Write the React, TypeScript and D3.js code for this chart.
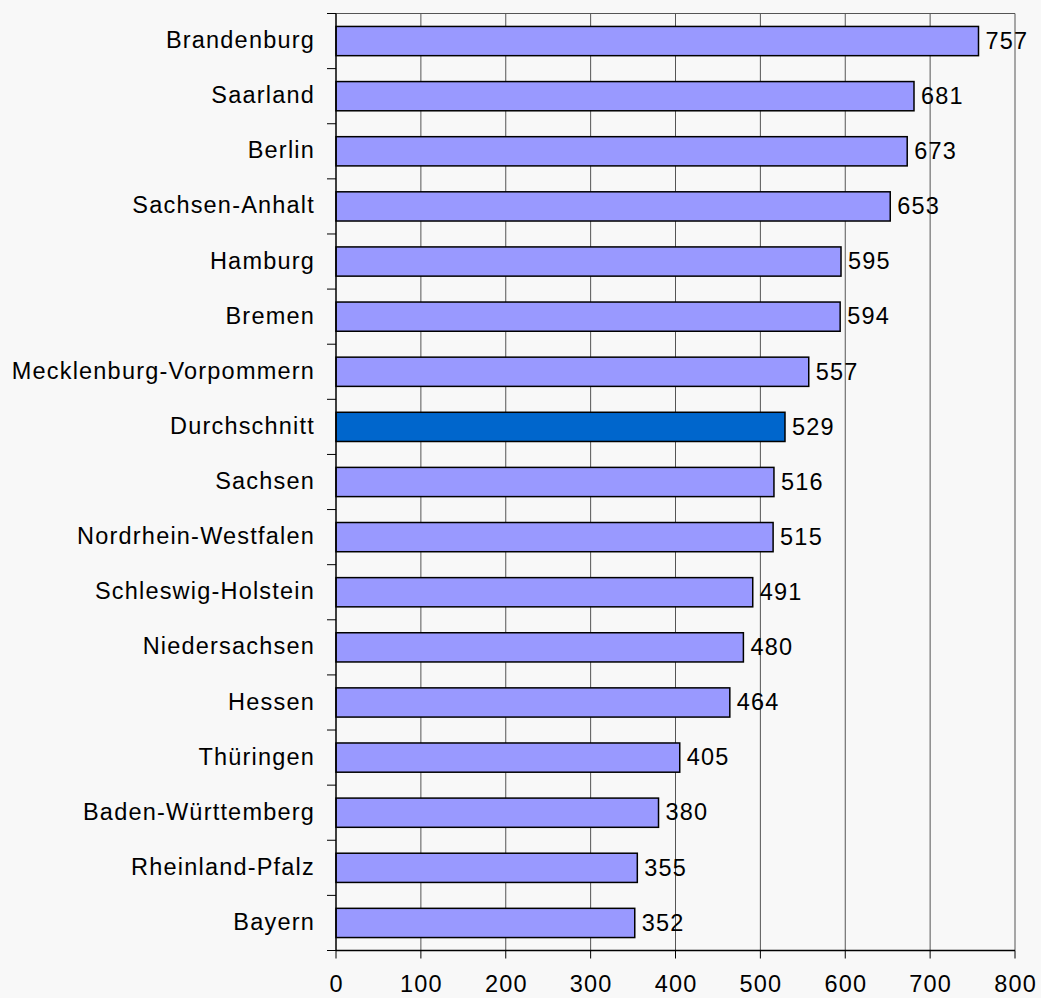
import React from 'react';
import * as d3 from 'd3';

const categories = [
  'Brandenburg', 'Saarland', 'Berlin', 'Sachsen-Anhalt', 'Hamburg', 'Bremen',
  'Mecklenburg-Vorpommern', 'Durchschnitt', 'Sachsen', 'Nordrhein-Westfalen',
  'Schleswig-Holstein', 'Niedersachsen', 'Hessen', 'Thüringen',
  'Baden-Württemberg', 'Rheinland-Pfalz', 'Bayern',
];
const values = [757, 681, 673, 653, 595, 594, 557, 529, 516, 515, 491, 480, 464, 405, 380, 355, 352];
const xTicks = [0, 100, 200, 300, 400, 500, 600, 700, 800];
const highlight = 'Durchschnitt';

const W = 1041;
const H = 998;
const left = 336;
const right = 1015;
const top = 13.5;
const bottom = 950.5;
const font = '"Liberation Sans", Arial, sans-serif';
const fs = 23.5;
const ls = 1.2;

export default function App() {
  const x = d3.scaleLinear().domain([0, 800]).range([left, right]);
  const y = d3.scaleBand<string>().domain(categories).range([top, bottom]).paddingInner(0.47).paddingOuter(0.235);
  const band = d3.scaleBand<string>().domain(categories).range([top, bottom]);

  return (
    <svg width={W} height={H} style={{ position: 'absolute', left: 0, top: 0, background: '#f8f8f8' }}>
      <rect x={0} y={0} width={W} height={H} fill="#f8f8f8" />
      {/* grid */}
      {xTicks.slice(1).map((t) => (
        <line key={t} x1={x(t)} x2={x(t)} y1={top} y2={bottom} stroke="#555" strokeWidth={1} />
      ))}
      <line x1={left} x2={right} y1={top} y2={top} stroke="#555" strokeWidth={1} />
      {/* bars */}
      {categories.map((c, i) => (
        <g key={c}>
          <rect
            x={x(0)}
            y={y(c)}
            width={x(values[i]) - x(0)}
            height={y.bandwidth()}
            fill={c === highlight ? '#0066cc' : '#9999ff'}
            stroke="#000"
            strokeWidth={1.5}
          />
          <text
            x={x(values[i]) + 7}
            y={(y(c) as number) + y.bandwidth() / 2}
            dy="0.33em"
            fontSize={fs}
            letterSpacing={ls}
            fontFamily={font}
            fill="#000"
          >
            {values[i]}
          </text>
          <text
            x={315}
            y={(band(c) as number) + band.bandwidth() / 2}
            dy="0.3em"
            textAnchor="end"
            fontSize={fs}
            letterSpacing={ls}
            fontFamily={font}
            fill="#000"
          >
            {c}
          </text>
        </g>
      ))}
      {/* y axis */}
      <line x1={left} x2={left} y1={top} y2={bottom} stroke="#000" strokeWidth={1.5} />
      {categories.map((c) => (
        <line key={c} x1={left - 9} x2={left} y1={band(c)} y2={band(c)} stroke="#000" strokeWidth={1} />
      ))}
      <line x1={left - 9} x2={left} y1={bottom} y2={bottom} stroke="#000" strokeWidth={1} />
      {/* x axis */}
      <line x1={left} x2={right} y1={bottom} y2={bottom} stroke="#000" strokeWidth={1.5} />
      {xTicks.map((t) => (
        <g key={t}>
          <line x1={x(t)} x2={x(t)} y1={bottom} y2={bottom + 8} stroke="#000" strokeWidth={1} />
          <text x={x(t) + ls / 2} y={992} textAnchor="middle" fontSize={fs} letterSpacing={ls} fontFamily={font} fill="#000">
            {t}
          </text>
        </g>
      ))}
    </svg>
  );
}
